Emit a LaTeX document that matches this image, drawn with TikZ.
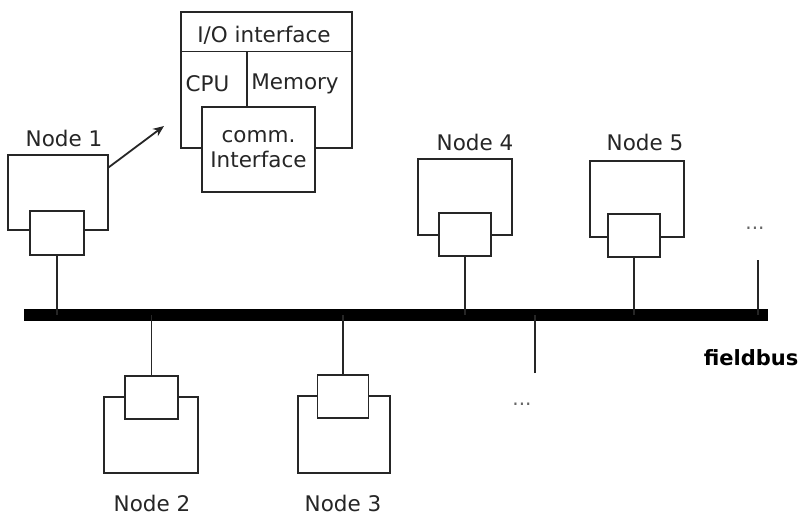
\documentclass[tikz,border=0pt]{standalone}
\usepackage{fontspec}
\setmainfont{DejaVu Sans}
\usetikzlibrary{arrows.meta,calc}
\begin{document}
\begin{tikzpicture}[x=1pt,y=-1pt,
  box/.style={draw=black!85,fill=white,line width=1.2pt,inner sep=0pt},
  lbl/.style={font=\fontsize{21.5}{25}\selectfont,inner sep=0pt,text=black!85},
  wire/.style={line width=1.2pt,draw=black!85},
  dots/.style={font=\fontsize{20}{22}\selectfont,inner sep=0pt,text=black!60},
]
\useasboundingbox[fill=white] (0,0) rectangle (802,516);

% fieldbus
\coordinate (busL) at (24,315);
\coordinate (busR) at (768,315);
\draw[line width=12pt] (busL) -- (busR);
\node[font=\bfseries\fontsize{21}{24}\selectfont,inner sep=0pt] (fb) at (751,358) {fieldbus};

% detail of a node
\node[box,minimum width=171pt,minimum height=136pt] (cpu) at (266.5,80) {};
\draw[wire] ($(cpu.north west)+(0,40)$) coordinate (divL) -- (divL -| cpu.east);
\node[box,lbl,minimum width=113pt,minimum height=85pt,align=center] (comm) at (258.5,149.5) {comm.\\Interface};
\draw[wire] (247,52) -- (247,0 |- comm.north);
\node[lbl] (io) at (264,35) {I/O interface};
\node[lbl] (cpul) at (207.5,84) {CPU};
\node[lbl] (meml) at (295,84) {Memory};

% Node 1
\node[box,minimum width=100pt,minimum height=75pt] (n1out) at (58,192.5) {};
\node[box,minimum width=54pt,minimum height=44pt] (n1in) at (57,233) {};
\node[lbl] (n1l) at (64,138) {Node 1};
\draw[wire] (n1in.south) -- (n1in.south |- busL);
\coordinate (arrtip) at (164,126);
\draw[line width=1.8pt,draw=black!85,-{Stealth[length=11pt,width=9pt]}] ($(n1out.north east)+(0,13)$) -- (arrtip);

% Node 4
\node[box,minimum width=94pt,minimum height=76pt] (n4out) at (465,197) {};
\node[box,minimum width=52pt,minimum height=43pt] (n4in) at (465,234.5) {};
\node[lbl] (n4l) at (475,142) {Node 4};
\draw[wire] (n4in.south) -- (n4in.south |- busL);

% Node 5
\node[box,minimum width=94pt,minimum height=76pt] (n5out) at (637,199) {};
\node[box,minimum width=52pt,minimum height=43pt] (n5in) at (634,235.5) {};
\node[lbl] (n5l) at (645,142) {Node 5};
\draw[wire] (n5in.south) -- (n5in.south |- busL);

% more nodes (top)
\node[dots] (d1) at (755,228) {...};
\coordinate (t6) at (758,260);
\draw[wire] (t6) -- (t6 |- busL);

% Node 2
\node[box,minimum width=94pt,minimum height=76pt] (n2out) at (151,435) {};
\node[box,minimum width=53pt,minimum height=43pt] (n2in) at (151.5,397.5) {};
\node[lbl] (n2l) at (152,503) {Node 2};
\draw[wire] (n2in.north) -- (n2in.north |- busL);

% Node 3
\node[box,minimum width=92pt,minimum height=77pt] (n3out) at (344,434.5) {};
\node[box,minimum width=51pt,minimum height=43pt] (n3in) at (343,396.5) {};
\node[lbl] (n3l) at (343,503) {Node 3};
\draw[wire] (n3in.north) -- (n3in.north |- busL);

% more nodes (bottom)
\coordinate (b6) at (535,373);
\draw[wire] (b6) -- (b6 |- busL);
\node[dots] (d2) at (522,404) {...};
\end{tikzpicture}
\end{document}
